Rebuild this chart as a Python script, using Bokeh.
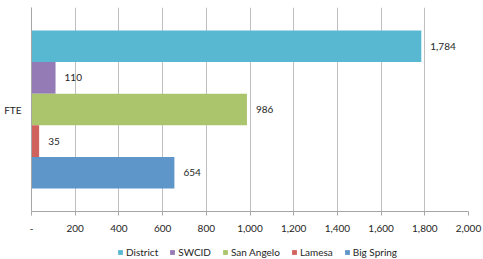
from bokeh.plotting import figure
from bokeh.layouts import column
from bokeh.models import ColumnDataSource, FactorRange, Legend, LegendItem, NumeralTickFormatter, FixedTicker
from bokeh.transform import dodge
from bokeh.core.properties import value
from bokeh.embed import file_html
from bokeh.resources import INLINE

category = ["FTE"]
series = ["District", "SWCID", "San Angelo", "Lamesa", "Big Spring"]
values = [1784, 110, 986, 35, 654]
colors = ["#58B8D1", "#957BB5", "#ABC56D", "#D0625E", "#5F96CA"]
x_ticks = [0, 200, 400, 600, 800, 1000, 1200, 1400, 1600, 1800, 2000]

FONT = "Lato"
TXT = "#262626"

p = figure(width=483, height=239, output_backend="svg", toolbar_location=None,
           title_location=None,
           y_range=FactorRange(*category), x_range=(0, 2000),
           min_border_left=31, min_border_right=15, min_border_top=7, min_border_bottom=28)
p.y_range.range_padding = 0
p.outline_line_color = None

bar_h = 0.155
offsets = [2 * bar_h, bar_h, 0, -bar_h, -2 * bar_h]
for name, v, c, off in zip(series, values, colors, offsets):
    src = ColumnDataSource(dict(cat=category, val=[v], lab=[f"{v:,}"]))
    p.hbar(y=dodge("cat", off, range=p.y_range), right="val", left=0, height=bar_h,
           source=src, fill_color=c, line_color=None)
    p.text(x="val", y=dodge("cat", off, range=p.y_range), text="lab", source=src,
           x_offset=9, text_baseline="middle", text_align="left",
           text_font=value(FONT), text_font_size="10px", text_color=TXT)

p.xaxis.ticker = FixedTicker(ticks=x_ticks)
p.xaxis.formatter = NumeralTickFormatter(format="0,0")
p.xaxis.major_label_overrides = {0: "-"}
p.xaxis.major_tick_out = 4
p.xaxis.major_tick_in = 0
p.xaxis.minor_tick_line_color = None
p.xaxis.axis_line_color = "#A6A6A6"
p.xaxis.major_tick_line_color = "#A6A6A6"
p.xaxis.major_label_text_font = FONT
p.xaxis.major_label_text_font_size = "10px"
p.xaxis.major_label_text_color = TXT
p.xaxis.major_label_standoff = 9

p.yaxis.major_tick_out = 0
p.yaxis.major_tick_in = 0
p.yaxis.axis_line_color = "#A6A6A6"
p.yaxis.major_label_text_font = FONT
p.yaxis.major_label_text_font_size = "10px"
p.yaxis.major_label_text_color = TXT
p.yaxis.major_label_standoff = 10

p.xgrid.ticker = FixedTicker(ticks=x_ticks)
p.xgrid.grid_line_color = "#BFBFBF"
p.ygrid.grid_line_color = None

# legend row (zero-size proxy glyphs carry the legend swatches)
lg = figure(width=483, height=20, output_backend="svg", toolbar_location=None,
            title_location=None, x_axis_type=None, y_axis_type=None,
            x_range=(0, 1), y_range=(0, 1),
            min_border=0, outline_line_color=None)
lg.xgrid.grid_line_color = None
lg.ygrid.grid_line_color = None
items = []
for name, c in zip(series, colors):
    r = lg.hbar(y=[0], left=[0], right=[0], height=0, fill_color=c, line_color=None)
    items.append(LegendItem(label=name, renderers=[r]))

legend = Legend(items=items, orientation="horizontal", location=(86, 1),
                glyph_width=6, glyph_height=6, label_standoff=3, spacing=11,
                label_text_font=FONT, label_text_font_size="10px", label_text_color=TXT,
                border_line_color=None, background_fill_alpha=0, padding=0,
                margin=0, label_height=10)
lg.add_layout(legend, "center")

layout = column(p, lg, spacing=0)
open("out.html", "w").write(file_html(layout, INLINE))
